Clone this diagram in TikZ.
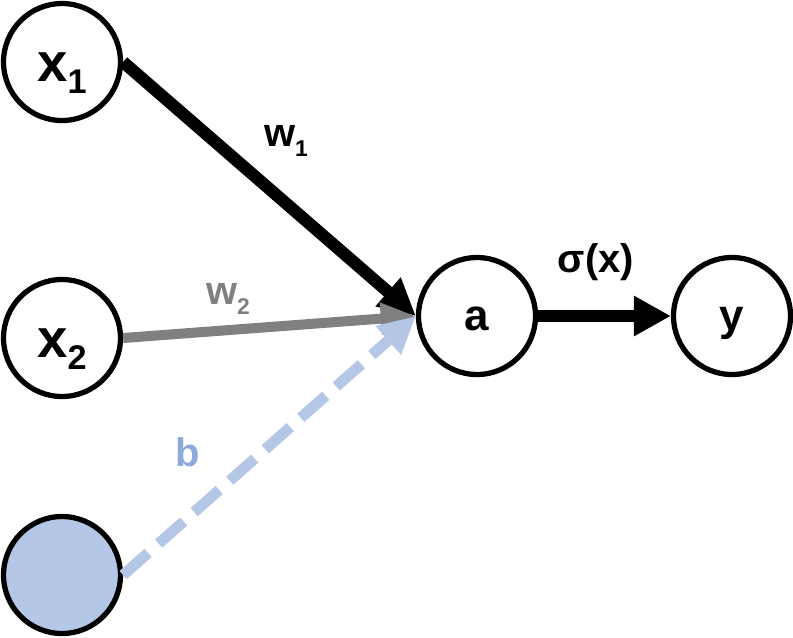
\documentclass[tikz,border=0pt]{standalone}
\usepackage{fontspec}
\setmainfont{Liberation Sans}
\usetikzlibrary{arrows.meta}

\tikzset{
    neuron/.style={circle, draw=black, line width=3pt, minimum size=2.34cm, inner sep=0pt},
    biglab/.style={font=\fontsize{31pt}{32pt}\selectfont\bfseries, text height=22.6pt, text depth=0pt},
    midlab/.style={font=\fontsize{25pt}{26pt}\selectfont\bfseries, text height=17pt, text depth=0pt},
    lab/.style={font=\fontsize{22.7pt}{24pt}\selectfont\bfseries, inner sep=0pt}
}
\newcommand{\bigsub}[2]{#1\raisebox{-6.8pt}{\fontsize{19.5pt}{20pt}\selectfont #2}}
\newcommand{\smallsub}[2]{#1\raisebox{-5.7pt}{\fontsize{13pt}{14pt}\selectfont #2}}

\begin{document}
\begin{tikzpicture}[x=0.02cm, y=-0.02cm]
    \definecolor{mygray}{RGB}{128,128,128}
    \definecolor{mybias}{RGB}{180,199,231}
    \definecolor{mybiaslab}{RGB}{142,169,219}

    \useasboundingbox (0,0) rectangle (793,637);

    % neurons
    \node[neuron, biglab] (x1) at (62,62) {\bigsub{x}{1}};
    \node[neuron, biglab] (x2) at (62,338) {\bigsub{x}{2}};
    \node[neuron, fill=mybias] (bias) at (62,575) {};
    \node[neuron, midlab] (a) at (477,316) {a};
    \node[neuron, midlab] (y) at (732,316) {y};

    % weights
    \draw[-{Triangle[length=21pt, width=20.4pt]}, line width=7pt] (x1.east) -- (a.west);
    \draw[-{Triangle[length=20pt, width=17pt]}, mygray, line width=5.7pt] (x2.east) -- (a.west);
    \draw[-{Triangle[length=21pt, width=20.4pt]}, mybias, line width=6.2pt,
          dash pattern=on 19pt off 8pt] (bias.east) -- (a.west);
    \draw[-{Triangle[length=21pt, width=21.5pt]}, line width=6.8pt] (a.east) -- (y.west);

    \node[lab] (w1) at (286,141) {\smallsub{w}{1}};
    \node[lab, mygray] (w2) at (228,299) {\smallsub{w}{2}};
    \node[lab, mybiaslab] (b) at (188,452) {b};
    \node[lab] (sig) at (596,262) {σ(x)};
\end{tikzpicture}
\end{document}
